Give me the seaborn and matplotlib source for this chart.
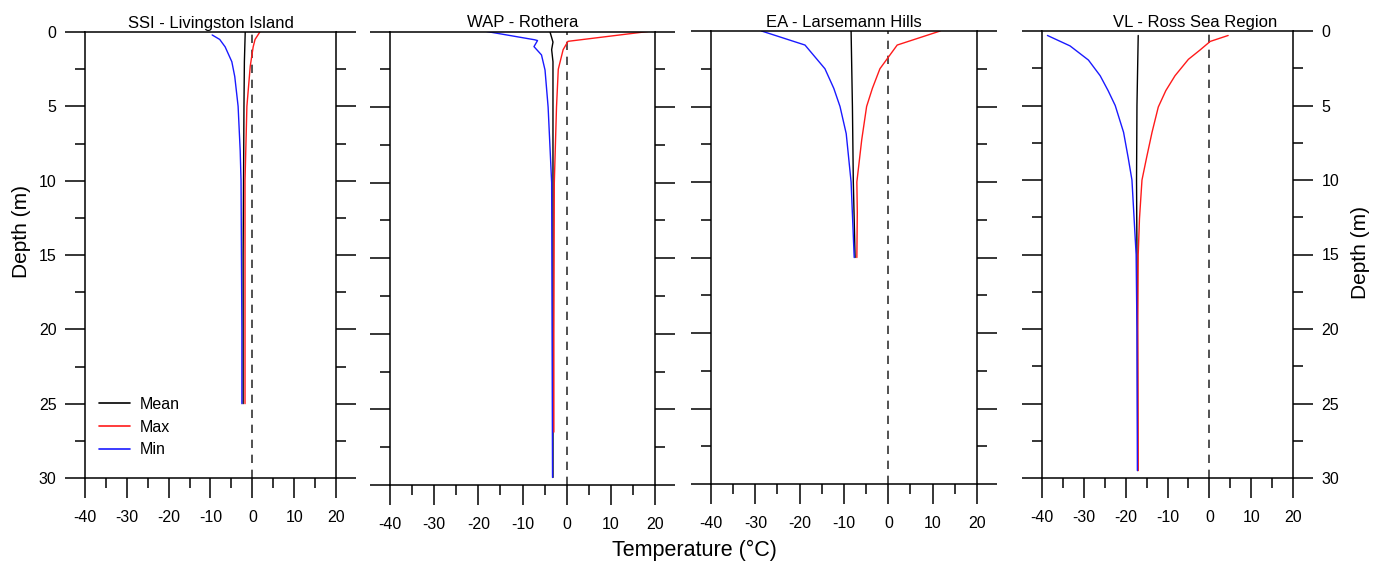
import seaborn as sns
import matplotlib.pyplot as plt
from matplotlib.ticker import MultipleLocator
import pandas as pd

sns.set_style("ticks")
plt.rcParams['font.family'] = ['Liberation Sans', 'DejaVu Sans']
plt.rcParams['axes.unicode_minus'] = False
plt.rcParams['text.color'] = 'black'
plt.rcParams['xtick.color'] = 'black'
plt.rcParams['ytick.color'] = 'black'
plt.rcParams['axes.labelcolor'] = 'black'

# ---- data (temperature in degC vs depth in m) ----
titles = ["SSI - Livingston Island", "WAP - Rothera", "EA - Larsemann Hills", "VL - Ross Sea Region"]

ssi_mean_depth = [0, 2, 5, 10, 15, 20, 25]
ssi_mean = [-1.7, -1.9, -2.0, -2.1, -2.2, -2.2, -2.2]
ssi_max_depth = [0, 0.5, 1, 2.3, 5, 10, 15, 20, 25]
ssi_max = [1.8, 0.65, 0.2, -0.5, -1.3, -1.75, -1.75, -1.75, -1.75]
ssi_min_depth = [0.2, 0.5, 1, 2, 3, 5, 8, 10, 15, 20, 25]
ssi_min = [-9.6, -7.8, -6.5, -4.9, -4.2, -3.4, -2.9, -2.7, -2.6, -2.5, -2.5]

wap_mean_depth = [0, 0.7, 1.2, 2, 5, 10, 20, 29.5]
wap_mean = [-3.8, -3.1, -3.4, -3.1, -3.1, -3.1, -3.1, -3.1]
wap_max_depth = [0, 0.65, 1.2, 2.5, 5, 10, 20, 26.5]
wap_max = [18.4, 0.3, -0.8, -1.9, -2.3, -2.8, -2.9, -2.9]
wap_min_depth = [0, 0.55, 0.6, 1.0, 1.55, 2.55, 5, 10, 20, 29.5]
wap_min = [-18.1, -7.2, -6.6, -7.4, -5.7, -4.9, -4.2, -3.4, -3.3, -3.2]

ea_mean_depth = [0, 5, 10, 15]
ea_mean = [-8.4, -8.1, -7.9, -7.5]
ea_max_depth = [0, 0.93, 2.5, 3.8, 5, 7.2, 10, 12, 15]
ea_max = [11.7, 2.0, -1.9, -3.6, -4.9, -6.0, -7.1, -7.0, -7.1]
ea_min_depth = [0, 0.93, 2.5, 3.8, 5, 6.8, 10, 15]
ea_min = [-28.6, -18.8, -14.3, -12.3, -10.9, -9.5, -8.4, -7.7]

vl_mean_depth = [0.3, 5, 10, 20, 29.5]
vl_mean = [-17.0, -17.3, -17.4, -17.2, -17.1]
vl_max_depth = [0.3, 0.7, 1.27, 1.9, 3.0, 4.0, 5.1, 6.8, 8.5, 10, 12.6, 15, 20, 29.5]
vl_max = [4.5, 0.2, -2.2, -5.0, -8.2, -10.4, -12.2, -13.7, -15.0, -16.1, -16.7, -17.0, -17.1, -17.0]
vl_min_depth = [0.3, 1.0, 1.95, 3.0, 4.0, 5.0, 6.8, 8.5, 10, 15, 20, 29.5]
vl_min = [-38.7, -33.3, -28.9, -26.1, -24.2, -22.5, -20.5, -19.4, -18.5, -17.5, -17.3, -17.2]

sites = [
    (ssi_mean_depth, ssi_mean, ssi_max_depth, ssi_max, ssi_min_depth, ssi_min),
    (wap_mean_depth, wap_mean, wap_max_depth, wap_max, wap_min_depth, wap_min),
    (ea_mean_depth, ea_mean, ea_max_depth, ea_max, ea_min_depth, ea_min),
    (vl_mean_depth, vl_mean, vl_max_depth, vl_max, vl_min_depth, vl_min),
]

palette = {'Mean': 'black', 'Max': '#ff1a1a', 'Min': '#1a1aff'}

W, H = 1386, 562
fig = plt.figure(figsize=(W / 100, H / 100), dpi=100)

# axes boxes in pixels: left, right, top, bottom
boxes = [(85, 336, 32, 478), (390, 655, 31.5, 485), (711, 977, 31, 484), (1042, 1293, 31, 478)]
title_x = [0.5, 0.5, 0.5, 0.61]

for i, (box, s) in enumerate(zip(boxes, sites)):
    l, r, t, b = box
    ax = fig.add_axes([l / W, 1 - b / H, (r - l) / W, (b - t) / H])
    frames = []
    for name, d, v in [('Mean', s[0], s[1]), ('Max', s[2], s[3]), ('Min', s[4], s[5])]:
        frames.append(pd.DataFrame({'depth': d, 'temp': v, 'stat': name}))
    df = pd.concat(frames, ignore_index=True)

    ax.axvline(0, color='#333333', lw=1.2, dashes=(5, 4), zorder=1)
    sns.lineplot(data=df, x='temp', y='depth', hue='stat', palette=palette,
                 sort=False, estimator=None, lw=1.0, ax=ax, legend=(i == 0))

    ax.set_xlim(-40, 20)
    ax.set_ylim(30, 0)
    ax.xaxis.set_major_locator(MultipleLocator(10))
    ax.xaxis.set_minor_locator(MultipleLocator(5))
    ax.yaxis.set_major_locator(MultipleLocator(5))
    ax.yaxis.set_minor_locator(MultipleLocator(2.5))
    ax.tick_params(which='major', length=14.5, width=1.1, labelsize=11.5, direction='out')
    ax.tick_params(which='minor', length=7.2, width=1.1, direction='out')
    ax.tick_params(axis='y', which='both', left=True, right=True,
                   labelleft=(i == 0), labelright=(i == 3), pad=6)
    ax.tick_params(axis='x', which='both', top=False, pad=8.5)
    for sp in ax.spines.values():
        sp.set_linewidth(1.1)
        sp.set_color('black')
    ax.set_xlabel('')
    ax.set_ylabel('')
    ax.set_title(titles[i], fontsize=12, x=title_x[i], pad=3)

    if i == 0:
        leg = ax.legend(loc='lower left', bbox_to_anchor=(0.0, 0.014), frameon=False,
                        fontsize=11.5, handlelength=1.9, handletextpad=0.6, labelspacing=0.48)
        for h in leg.get_lines():
            h.set_linewidth(1.2)

fig.text(694 / W, 1 - 550 / H, 'Temperature (°C)', ha='center', va='center', fontsize=15.5)
fig.text(22 / W, 1 - 232 / H, 'Depth (m)', ha='center', va='center', rotation=90, fontsize=15)
fig.text(1360 / W, 1 - 253 / H, 'Depth (m)', ha='center', va='center', rotation=90, fontsize=15)

fig.savefig('out.png', dpi=100)
